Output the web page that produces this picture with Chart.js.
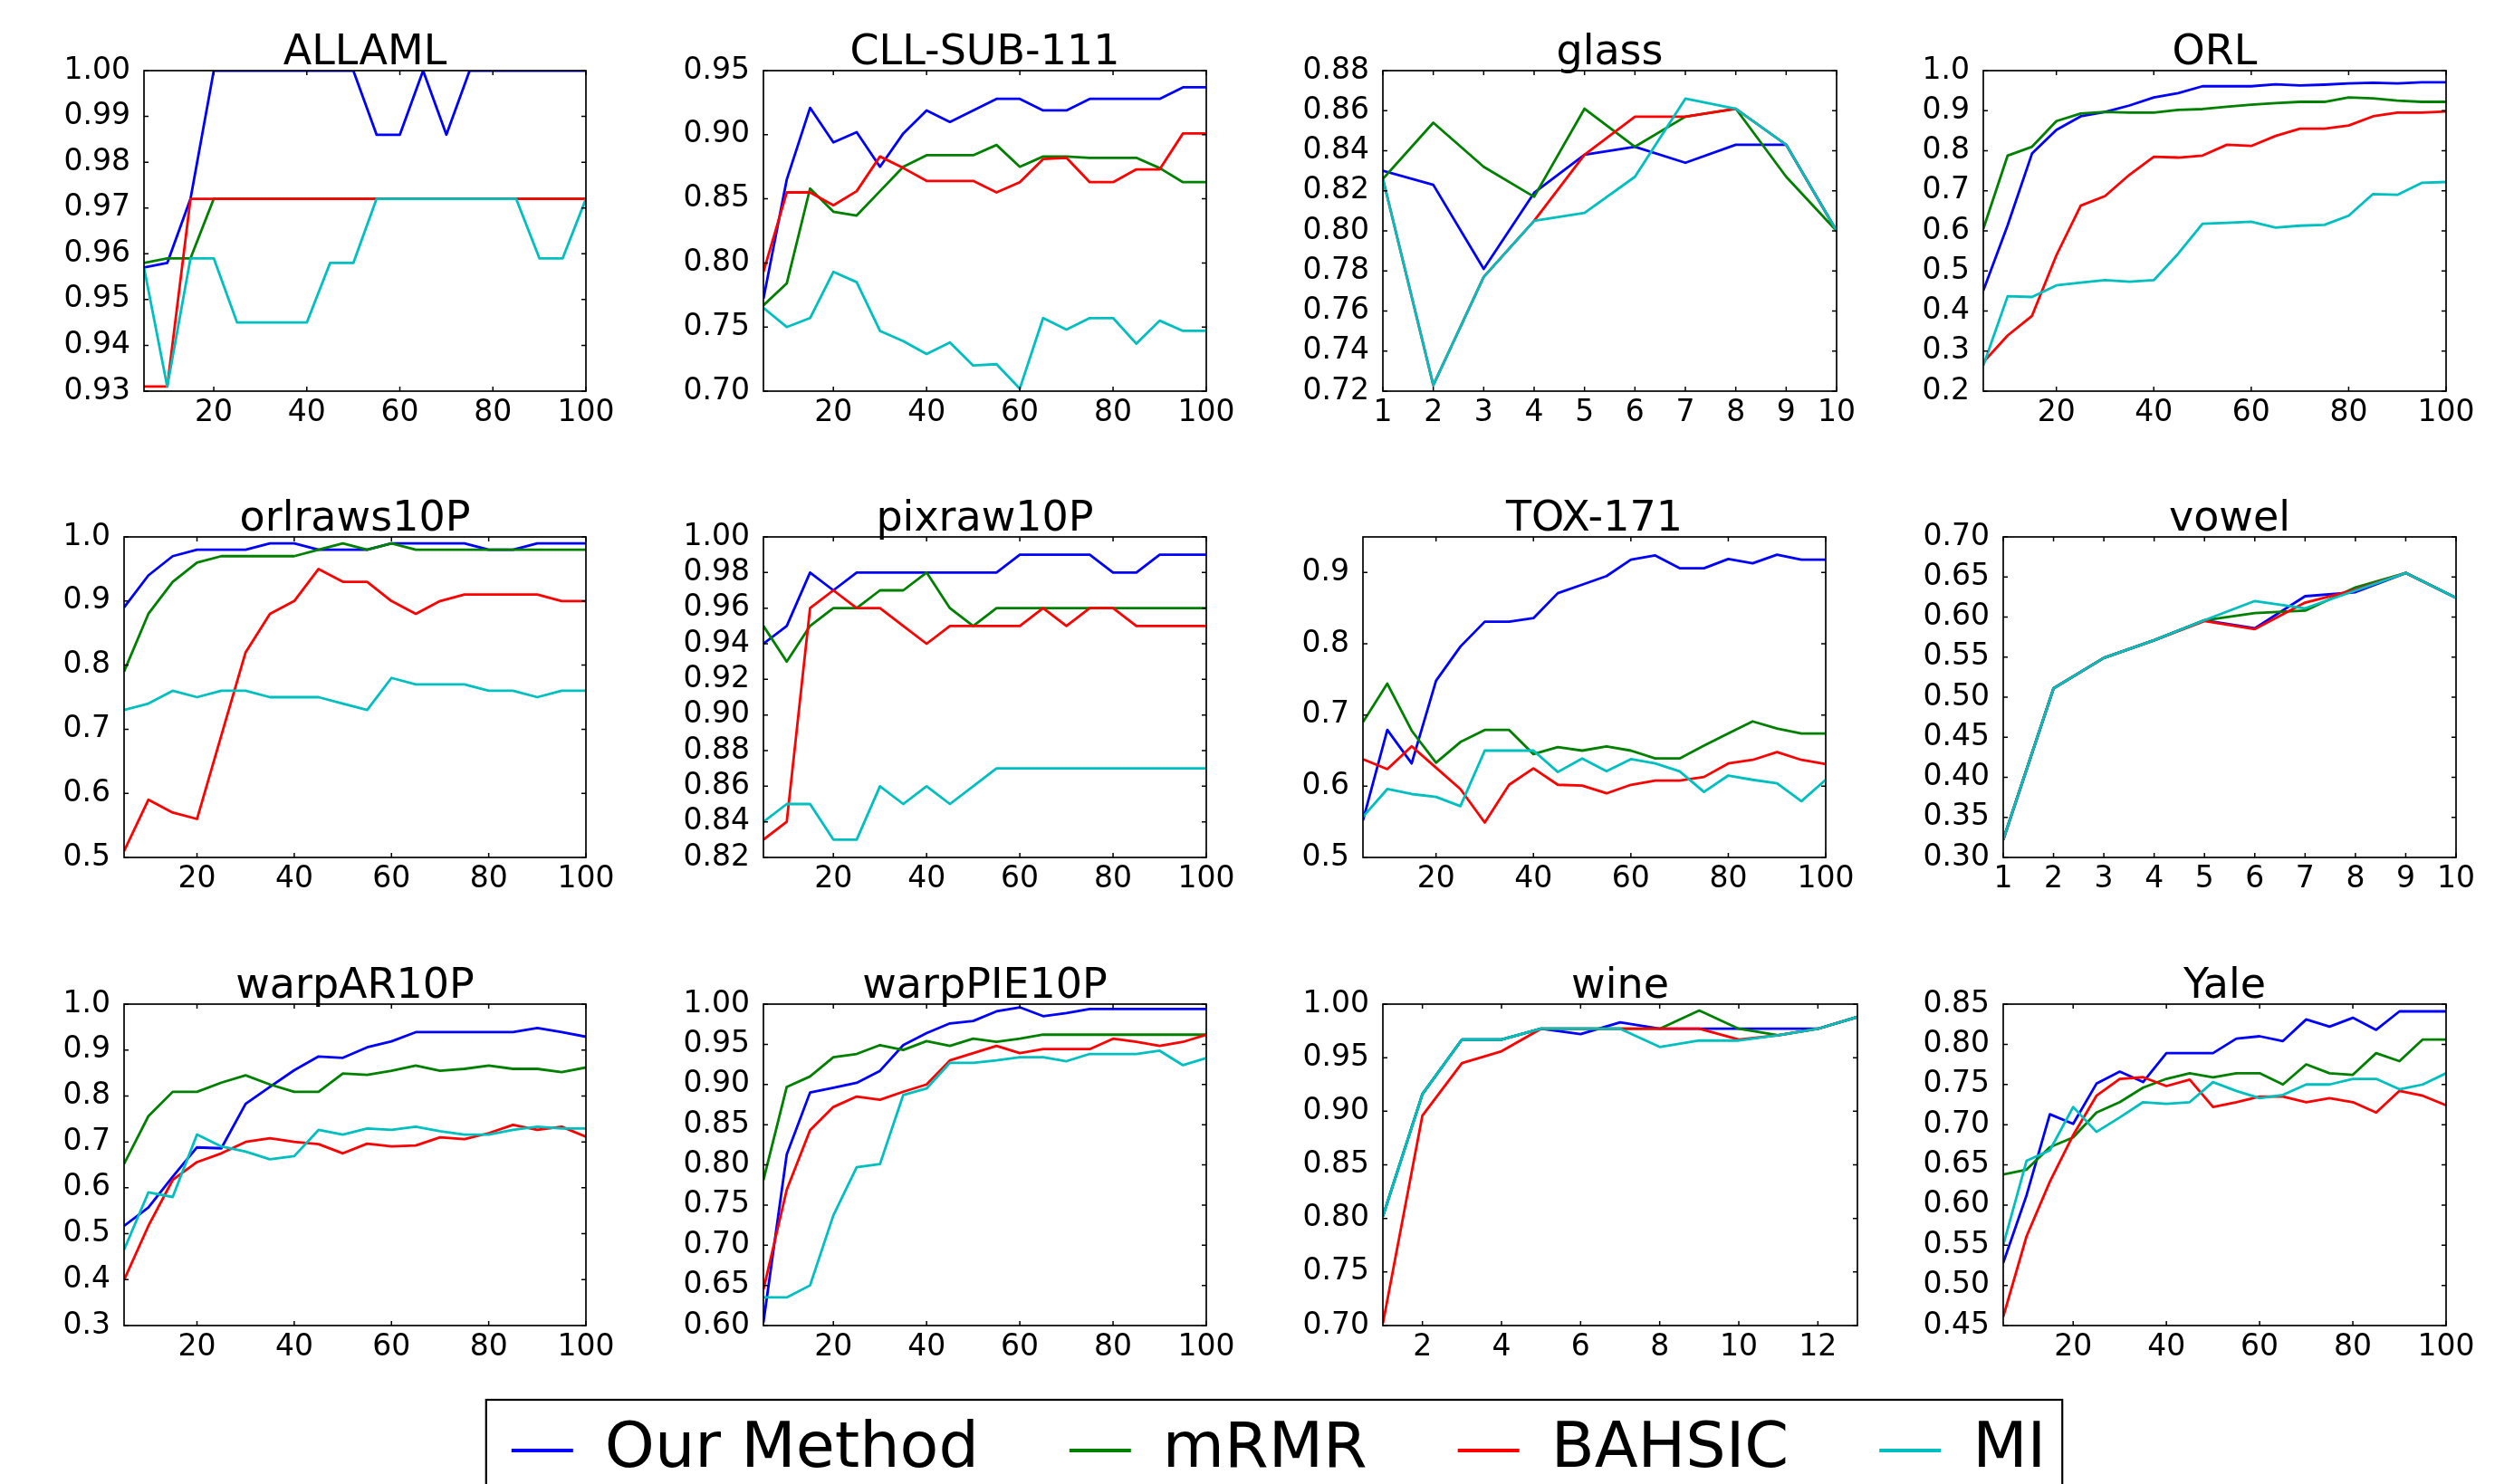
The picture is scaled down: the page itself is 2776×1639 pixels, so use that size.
<!DOCTYPE html>
<html>
<head>
<meta charset="utf-8">
<script src="https://cdn.jsdelivr.net/npm/chart.js@4.4.0/dist/chart.umd.min.js"></script>
<style>
html,body{margin:0;padding:0;background:#fff;width:2776px;height:1639px;overflow:hidden;position:relative;}
canvas{position:absolute;display:block;}
</style>
</head>
<body>
<script>
// ---------------- data ----------------
const seriesNames = ['Our Method', 'mRMR', 'BAHSIC', 'MI'];
const seriesColors = ['#0000ff', '#008000', '#ff0000', '#00bfbf'];

const xFeat = [5,10,15,20,25,30,35,40,45,50,55,60,65,70,75,80,85,90,95,100];
const xTen = [1,2,3,4,5,6,7,8,9,10];
const xWine = [1,2,3,4,5,6,7,8,9,10,11,12,13];

const xTicksFeat = [20,40,60,80,100];
const xTicksTen = [1,2,3,4,5,6,7,8,9,10];
const xTicksWine = [2,4,6,8,10,12];

const allamlYTicks = [0.93,0.94,0.95,0.96,0.97,0.98,0.99,1.00];
const cllYTicks = [0.70,0.75,0.80,0.85,0.90,0.95];
const glassYTicks = [0.72,0.74,0.76,0.78,0.80,0.82,0.84,0.86,0.88];
const orlYTicks = [0.2,0.3,0.4,0.5,0.6,0.7,0.8,0.9,1.0];
const orlrawsYTicks = [0.5,0.6,0.7,0.8,0.9,1.0];
const pixrawYTicks = [0.82,0.84,0.86,0.88,0.90,0.92,0.94,0.96,0.98,1.00];
const toxYTicks = [0.5,0.6,0.7,0.8,0.9];
const vowelYTicks = [0.30,0.35,0.40,0.45,0.50,0.55,0.60,0.65,0.70];
const warpARYTicks = [0.3,0.4,0.5,0.6,0.7,0.8,0.9,1.0];
const warpPIEYTicks = [0.60,0.65,0.70,0.75,0.80,0.85,0.90,0.95,1.00];
const wineYTicks = [0.70,0.75,0.80,0.85,0.90,0.95,1.00];
const yaleYTicks = [0.45,0.50,0.55,0.60,0.65,0.70,0.75,0.80,0.85];

const allamlOurs   = [0.957,0.958,0.972,1,1,1,1,1,1,1,0.986,0.986,1,0.986,1,1,1,1,1,1];
const allamlMrmr   = [0.958,0.959,0.959,0.972,0.972,0.972,0.972,0.972,0.972,0.972,0.972,0.972,0.972,0.972,0.972,0.972,0.972,0.972,0.972,0.972];
const allamlBahsic = [0.931,0.931,0.972,0.972,0.972,0.972,0.972,0.972,0.972,0.972,0.972,0.972,0.972,0.972,0.972,0.972,0.972,0.972,0.972,0.972];
const allamlMi     = [0.957,0.931,0.959,0.959,0.945,0.945,0.945,0.945,0.958,0.958,0.972,0.972,0.972,0.972,0.972,0.972,0.972,0.959,0.959,0.972];

const cllOurs   = [0.772,0.865,0.921,0.894,0.902,0.875,0.901,0.919,0.910,0.919,0.928,0.928,0.919,0.919,0.928,0.928,0.928,0.928,0.937,0.937];
const cllMrmr   = [0.767,0.784,0.858,0.840,0.837,0.856,0.875,0.884,0.884,0.884,0.892,0.875,0.883,0.883,0.882,0.882,0.882,0.874,0.863,0.863];
const cllBahsic = [0.793,0.855,0.855,0.845,0.856,0.883,0.874,0.864,0.864,0.864,0.855,0.863,0.881,0.882,0.863,0.863,0.873,0.873,0.901,0.901];
const cllMi     = [0.765,0.750,0.757,0.793,0.785,0.747,0.739,0.729,0.738,0.720,0.721,0.702,0.757,0.748,0.757,0.757,0.737,0.755,0.747,0.747];

const glassOurs   = [0.830,0.823,0.781,0.819,0.838,0.842,0.834,0.843,0.843,0.800];
const glassMrmr   = [0.826,0.854,0.832,0.817,0.861,0.842,0.857,0.861,0.827,0.800];
const glassBahsic = [0.826,0.723,0.777,0.805,0.838,0.857,0.857,0.861,0.843,0.800];
const glassMi     = [0.826,0.723,0.777,0.805,0.809,0.827,0.866,0.861,0.843,0.800];

const orlOurs   = [0.451,0.614,0.793,0.852,0.886,0.897,0.913,0.933,0.944,0.961,0.961,0.961,0.966,0.963,0.965,0.968,0.970,0.968,0.971,0.971];
const orlMrmr   = [0.605,0.788,0.810,0.874,0.893,0.897,0.895,0.895,0.902,0.904,0.910,0.915,0.919,0.922,0.922,0.933,0.931,0.925,0.922,0.922];
const orlBahsic = [0.272,0.339,0.388,0.539,0.663,0.687,0.740,0.785,0.783,0.788,0.815,0.812,0.837,0.855,0.855,0.863,0.886,0.895,0.895,0.898];
const orlMi     = [0.264,0.437,0.435,0.464,0.471,0.477,0.473,0.477,0.543,0.618,0.620,0.623,0.608,0.613,0.615,0.638,0.692,0.690,0.720,0.722];

const orlrawsOurs   = [0.89,0.94,0.97,0.98,0.98,0.98,0.99,0.99,0.98,0.98,0.98,0.99,0.99,0.99,0.99,0.98,0.98,0.99,0.99,0.99];
const orlrawsMrmr   = [0.79,0.88,0.93,0.96,0.97,0.97,0.97,0.97,0.98,0.99,0.98,0.99,0.98,0.98,0.98,0.98,0.98,0.98,0.98,0.98];
const orlrawsBahsic = [0.51,0.59,0.57,0.56,0.69,0.82,0.88,0.90,0.95,0.93,0.93,0.90,0.88,0.90,0.91,0.91,0.91,0.91,0.90,0.90];
const orlrawsMi     = [0.73,0.74,0.76,0.75,0.76,0.76,0.75,0.75,0.75,0.74,0.73,0.78,0.77,0.77,0.77,0.76,0.76,0.75,0.76,0.76];

const pixrawOurs   = [0.94,0.95,0.98,0.97,0.98,0.98,0.98,0.98,0.98,0.98,0.98,0.99,0.99,0.99,0.99,0.98,0.98,0.99,0.99,0.99];
const pixrawMrmr   = [0.95,0.93,0.95,0.96,0.96,0.97,0.97,0.98,0.96,0.95,0.96,0.96,0.96,0.96,0.96,0.96,0.96,0.96,0.96,0.96];
const pixrawBahsic = [0.83,0.84,0.96,0.97,0.96,0.96,0.95,0.94,0.95,0.95,0.95,0.95,0.96,0.95,0.96,0.96,0.95,0.95,0.95,0.95];
const pixrawMi     = [0.84,0.85,0.85,0.83,0.83,0.86,0.85,0.86,0.85,0.86,0.87,0.87,0.87,0.87,0.87,0.87,0.87,0.87,0.87,0.87];

const toxOurs   = [0.552,0.679,0.632,0.748,0.796,0.831,0.831,0.836,0.871,0.883,0.895,0.918,0.924,0.906,0.906,0.919,0.913,0.925,0.918,0.918];
const toxMrmr   = [0.690,0.744,0.678,0.633,0.662,0.679,0.679,0.645,0.655,0.650,0.656,0.650,0.639,0.639,0.657,0.674,0.691,0.681,0.674,0.674];
const toxBahsic = [0.638,0.624,0.656,0.626,0.596,0.549,0.602,0.625,0.602,0.601,0.590,0.602,0.608,0.608,0.613,0.632,0.637,0.648,0.637,0.631];
const toxMi     = [0.557,0.596,0.589,0.585,0.572,0.650,0.650,0.650,0.620,0.639,0.621,0.638,0.632,0.621,0.592,0.615,0.609,0.604,0.579,0.609];

const vowelOurs   = [0.322,0.511,0.549,0.571,0.596,0.586,0.626,0.631,0.655,0.624];
const vowelMrmr   = [0.322,0.511,0.549,0.571,0.596,0.605,0.608,0.637,0.655,0.624];
const vowelBahsic = [0.322,0.511,0.549,0.571,0.595,0.585,0.618,0.634,0.655,0.624];
const vowelMi     = [0.322,0.511,0.549,0.571,0.596,0.620,0.611,0.633,0.655,0.624];

const warpAROurs   = [0.517,0.557,0.624,0.688,0.686,0.783,0.820,0.856,0.886,0.883,0.906,0.919,0.939,0.939,0.939,0.939,0.939,0.948,0.939,0.929];
const warpARMrmr   = [0.652,0.756,0.809,0.809,0.829,0.845,0.825,0.809,0.809,0.849,0.846,0.855,0.866,0.855,0.859,0.866,0.859,0.859,0.852,0.862];
const warpARBahsic = [0.399,0.517,0.617,0.656,0.675,0.700,0.708,0.700,0.695,0.675,0.696,0.690,0.692,0.710,0.706,0.719,0.737,0.726,0.733,0.711];
const warpARMi     = [0.465,0.590,0.580,0.716,0.690,0.679,0.662,0.669,0.726,0.716,0.729,0.726,0.733,0.723,0.716,0.716,0.726,0.733,0.729,0.729];

const warpPIEOurs   = [0.604,0.813,0.890,0.896,0.902,0.917,0.949,0.964,0.976,0.979,0.991,0.996,0.985,0.989,0.994,0.994,0.994,0.994,0.994,0.994];
const warpPIEMrmr   = [0.781,0.897,0.910,0.934,0.938,0.949,0.943,0.954,0.948,0.957,0.953,0.957,0.962,0.962,0.962,0.962,0.962,0.962,0.962,0.962];
const warpPIEBahsic = [0.645,0.769,0.843,0.872,0.885,0.881,0.891,0.900,0.930,0.939,0.948,0.939,0.944,0.944,0.944,0.957,0.953,0.948,0.953,0.962];
const warpPIEMi     = [0.635,0.635,0.650,0.737,0.797,0.801,0.887,0.895,0.927,0.927,0.930,0.934,0.934,0.929,0.938,0.938,0.938,0.942,0.924,0.933];

const wineOurs   = [0.802,0.916,0.967,0.967,0.977,0.972,0.983,0.977,0.977,0.977,0.977,0.977,0.988];
const wineMrmr   = [0.802,0.916,0.967,0.967,0.977,0.977,0.977,0.977,0.994,0.977,0.971,0.977,0.988];
const wineBahsic = [0.702,0.896,0.945,0.956,0.977,0.977,0.977,0.977,0.977,0.967,0.971,0.977,0.988];
const wineMi     = [0.802,0.916,0.967,0.967,0.977,0.977,0.977,0.960,0.966,0.966,0.971,0.977,0.988];

const yaleOurs   = [0.528,0.612,0.713,0.701,0.751,0.766,0.753,0.789,0.789,0.789,0.807,0.810,0.804,0.831,0.822,0.833,0.818,0.841,0.841,0.841];
const yaleMrmr   = [0.638,0.644,0.672,0.684,0.715,0.728,0.746,0.757,0.764,0.759,0.764,0.764,0.750,0.775,0.764,0.762,0.789,0.779,0.806,0.806];
const yaleBahsic = [0.461,0.561,0.629,0.687,0.736,0.757,0.759,0.748,0.756,0.722,0.728,0.735,0.735,0.728,0.733,0.728,0.715,0.742,0.736,0.724];
const yaleMi     = [0.550,0.655,0.668,0.722,0.691,0.709,0.728,0.726,0.728,0.753,0.742,0.733,0.737,0.750,0.750,0.757,0.757,0.744,0.750,0.764];

// ---------------- panels (layout: plot box left, top, right, bottom in page px) ----------------
const panels = [
  {title:'ALLAML', xs:xFeat, xMin:5, xMax:100, xTicks:xTicksFeat, yMin:0.93, yMax:1.00, yTicks:allamlYTicks, dec:2, series:[allamlOurs,allamlMrmr,allamlBahsic,allamlMi], box:[159,78,647,432]},
  {title:'CLL-SUB-111', xs:xFeat, xMin:5, xMax:100, xTicks:xTicksFeat, yMin:0.70, yMax:0.95, yTicks:cllYTicks, dec:2, series:[cllOurs,cllMrmr,cllBahsic,cllMi], box:[843,78,1332,432]},
  {title:'glass', xs:xTen, xMin:1, xMax:10, xTicks:xTicksTen, yMin:0.72, yMax:0.88, yTicks:glassYTicks, dec:2, series:[glassOurs,glassMrmr,glassBahsic,glassMi], box:[1527,78,2028,432]},
  {title:'ORL', xs:xFeat, xMin:5, xMax:100, xTicks:xTicksFeat, yMin:0.2, yMax:1.0, yTicks:orlYTicks, dec:1, series:[orlOurs,orlMrmr,orlBahsic,orlMi], box:[2190,78,2701,432]},
  {title:'orlraws10P', xs:xFeat, xMin:5, xMax:100, xTicks:xTicksFeat, yMin:0.5, yMax:1.0, yTicks:orlrawsYTicks, dec:1, series:[orlrawsOurs,orlrawsMrmr,orlrawsBahsic,orlrawsMi], box:[137,593,647,947]},
  {title:'pixraw10P', xs:xFeat, xMin:5, xMax:100, xTicks:xTicksFeat, yMin:0.82, yMax:1.00, yTicks:pixrawYTicks, dec:2, series:[pixrawOurs,pixrawMrmr,pixrawBahsic,pixrawMi], box:[843,593,1332,947]},
  {title:'TOX-171', xs:xFeat, xMin:5, xMax:100, xTicks:xTicksFeat, yMin:0.5, yMax:0.95, yTicks:toxYTicks, dec:1, series:[toxOurs,toxMrmr,toxBahsic,toxMi], box:[1505,593,2016,947]},
  {title:'vowel', xs:xTen, xMin:1, xMax:10, xTicks:xTicksTen, yMin:0.30, yMax:0.70, yTicks:vowelYTicks, dec:2, series:[vowelOurs,vowelMrmr,vowelBahsic,vowelMi], box:[2212,593,2712,947]},
  {title:'warpAR10P', xs:xFeat, xMin:5, xMax:100, xTicks:xTicksFeat, yMin:0.3, yMax:1.0, yTicks:warpARYTicks, dec:1, series:[warpAROurs,warpARMrmr,warpARBahsic,warpARMi], box:[137,1109,647,1464]},
  {title:'warpPIE10P', xs:xFeat, xMin:5, xMax:100, xTicks:xTicksFeat, yMin:0.60, yMax:1.00, yTicks:warpPIEYTicks, dec:2, series:[warpPIEOurs,warpPIEMrmr,warpPIEBahsic,warpPIEMi], box:[843,1109,1332,1464]},
  {title:'wine', xs:xWine, xMin:1, xMax:13, xTicks:xTicksWine, yMin:0.70, yMax:1.00, yTicks:wineYTicks, dec:2, series:[wineOurs,wineMrmr,wineBahsic,wineMi], box:[1527,1109,2051,1464]},
  {title:'Yale', xs:xFeat, xMin:5, xMax:100, xTicks:xTicksFeat, yMin:0.45, yMax:0.85, yTicks:yaleYTicks, dec:2, series:[yaleOurs,yaleMrmr,yaleBahsic,yaleMi], box:[2212,1109,2701,1464]}
];

// ---------------- rendering ----------------
const FONT = "'DejaVu Sans', 'Bitstream Vera Sans', sans-serif";
const Y_W = 150, TITLE_H = 70, X_H = 55, PAD_R = 50;
const TITLE_SIZE = 46, TITLE_LH = 0.82;
Chart.defaults.color = '#000';
Chart.defaults.font.family = FONT;

const frameTicks = {
  id: 'frameTicks',
  afterDatasetsDraw(chart) {
    const {ctx, chartArea: a, scales: {x, y}} = chart;
    const tl = 5;
    ctx.save();
    ctx.strokeStyle = '#000';
    ctx.lineWidth = 1.5;
    ctx.beginPath();
    x.ticks.forEach(t => {
      const px = x.getPixelForValue(t.value);
      ctx.moveTo(px, a.bottom); ctx.lineTo(px, a.bottom - tl);
      ctx.moveTo(px, a.top); ctx.lineTo(px, a.top + tl);
    });
    y.ticks.forEach(t => {
      const py = y.getPixelForValue(t.value);
      ctx.moveTo(a.left, py); ctx.lineTo(a.left + tl, py);
      ctx.moveTo(a.right, py); ctx.lineTo(a.right - tl, py);
    });
    ctx.stroke();
    ctx.lineWidth = 1.7;
    ctx.strokeRect(a.left, a.top, a.right - a.left, a.bottom - a.top);
    ctx.restore();
  }
};

function addCanvas(left, top, w, h) {
  const cv = document.createElement('canvas');
  cv.width = w; cv.height = h;
  cv.style.left = left + 'px';
  cv.style.top = top + 'px';
  cv.style.width = w + 'px'; cv.style.height = h + 'px';
  document.body.appendChild(cv);
  return cv;
}

panels.forEach(p => {
  const [L, T, R, B] = p.box;
  const w = Y_W + (R - L) + PAD_R;
  const h = TITLE_H + (B - T) + X_H;
  const cv = addCanvas(L - Y_W, T - TITLE_H, w, h);
  const datasets = p.series.map((vals, i) => ({
    label: seriesNames[i],
    data: p.xs.map((xv, j) => ({x: xv, y: vals[j]})),
    borderColor: seriesColors[i],
    backgroundColor: seriesColors[i],
    borderWidth: 2.8,
    pointRadius: 0,
    fill: false,
    tension: 0,
    borderJoinStyle: 'round',
    order: 4 - i
  }));
  new Chart(cv.getContext('2d'), {
    type: 'line',
    data: {datasets},
    plugins: [frameTicks],
    options: {
      responsive: false,
      animation: false,
      devicePixelRatio: 1,
      events: [],
      layout: {padding: {left: 0, right: PAD_R, top: 0, bottom: 0}},
      plugins: {
        legend: {display: false},
        tooltip: {enabled: false},
        title: {
          display: true, text: p.title, fullSize: false, color: '#000',
          font: {family: FONT, size: TITLE_SIZE, weight: 'normal', lineHeight: TITLE_LH},
          padding: {top: TITLE_H - TITLE_SIZE * TITLE_LH, bottom: 0}
        }
      },
      scales: {
        x: {
          type: 'linear', min: p.xMin, max: p.xMax,
          grid: {display: false}, border: {display: false},
          afterBuildTicks: s => { s.ticks = p.xTicks.map(v => ({value: v})); },
          afterFit: s => { s.height = X_H; },
          ticks: {autoSkip: false, maxRotation: 0, color: '#000', padding: -3,
                  font: {family: FONT, size: 33}, callback: v => String(v)}
        },
        y: {
          type: 'linear', min: p.yMin, max: p.yMax,
          grid: {display: false}, border: {display: false},
          afterBuildTicks: s => { s.ticks = p.yTicks.map(v => ({value: v})); },
          afterFit: s => { s.width = Y_W; },
          ticks: {autoSkip: false, color: '#000', padding: 7,
                  font: {family: FONT, size: 33}, callback: v => Number(v).toFixed(p.dec)}
        }
      }
    }
  });
});

// ---------------- legend ----------------
const LEG_FONT = 70, LEG_PAD = 100, LEG_LINE = 68;
const legendFrame = {
  id: 'legendFrame',
  afterDraw(chart) {
    const hb = chart.legend.legendHitBoxes;
    if (!hb || !hb.length) return;
    const ctx = chart.ctx;
    const first = hb[0], last = hb[hb.length - 1];
    const cy = first.top + first.height / 2;
    const left = first.left - 28;
    const right = last.left + last.width + 18;
    ctx.save();
    ctx.strokeStyle = '#000';
    ctx.lineWidth = 2.2;
    ctx.strokeRect(left, cy - 56, right - left, chart.height + 100);
    ctx.restore();
  }
};
const LEG_W = 2200;
const legendTop = 1602 - LEG_PAD - LEG_FONT / 2;
const legCv = addCanvas(1412 - LEG_W / 2, legendTop, LEG_W, 640);
new Chart(legCv.getContext('2d'), {
  type: 'line',
  data: {
    datasets: seriesNames.map((n, i) => ({
      label: n, data: [], borderColor: seriesColors[i], backgroundColor: seriesColors[i],
      borderWidth: 4, pointRadius: 0
    }))
  },
  plugins: [legendFrame],
  options: {
    responsive: false, animation: false, devicePixelRatio: 1, events: [],
    layout: {padding: 0},
    scales: {x: {display: false}, y: {display: false}},
    plugins: {
      tooltip: {enabled: false},
      legend: {
        display: true, position: 'top', align: 'center', maxHeight: 600,
        labels: {
          usePointStyle: true, pointStyle: 'line', pointStyleWidth: LEG_LINE,
          color: '#000', padding: LEG_PAD,
          font: {family: FONT, size: LEG_FONT, weight: 'normal'}
        }
      }
    }
  }
});
</script>
</body>
</html>
